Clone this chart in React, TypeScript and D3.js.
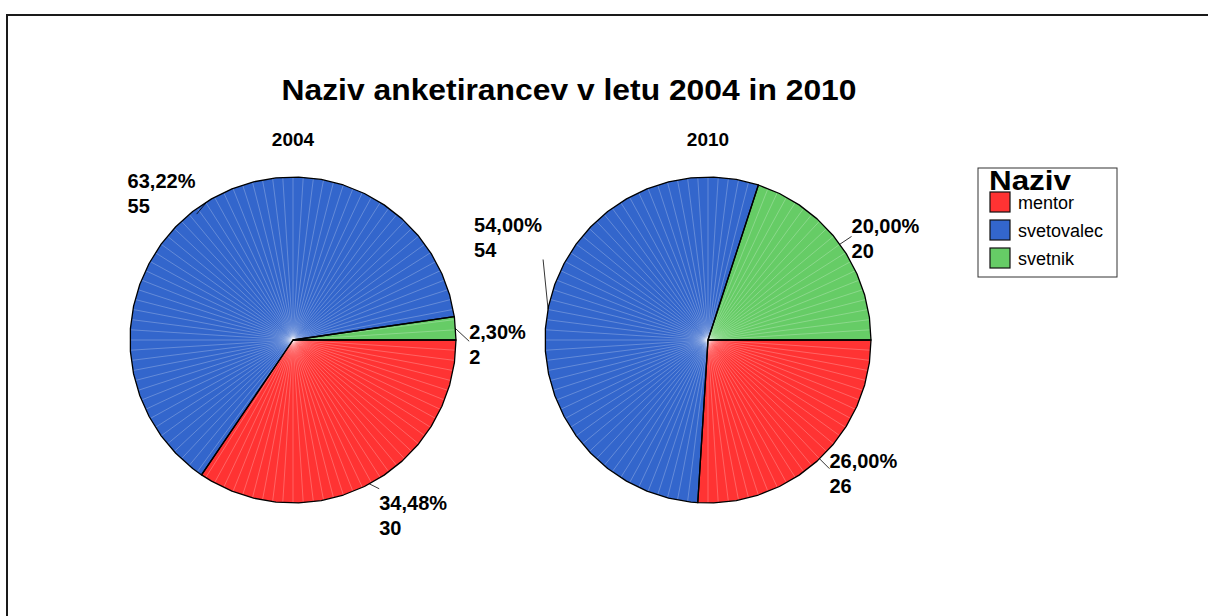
import React from "react";
import * as d3 from "d3";

const categories = ["mentor", "svetovalec", "svetnik"];
const years = ["2004", "2010"];
const values2004 = [30, 55, 2];
const values2010 = [26, 54, 20];
const colors = ["#FF3333", "#3366CC", "#66CC66"];
const title = "Naziv anketirancev v letu 2004 in 2010";
const legendTitle = "Naziv";

const W = 1208;
const H = 616;
const R = 163;
const FONT = "'Liberation Sans', Arial, sans-serif";

// leader end offsets (from slice edge point) and text block offsets (from leader end)
type LabelSpec = { dx: number; dy: number; tdx: number; tdy: number };
const labelSpecs: LabelSpec[][] = [
  [
    { dx: 10, dy: 5, tdx: 0, tdy: 21 },
    { dx: -10, dy: 12, tdx: -69, tdy: -26 },
    { dx: 14, dy: 13, tdx: 0, tdy: -2 },
  ],
  [
    { dx: 10, dy: 10, tdx: 0, tdy: -1 },
    { dx: -5, dy: -50, tdx: -69, tdy: -27 },
    { dx: 12, dy: -8, tdx: 0, tdy: -3 },
  ],
];

const fmtPct = (v: number) => d3.format(".2f")(v).replace(".", ",") + "%";

function pt(cx: number, cy: number, r: number, a: number): [number, number] {
  return [cx + r * Math.sin(a), cy - r * Math.cos(a)];
}

const FACET = (8 * Math.PI) / 180;
const RAY = (3.6 * Math.PI) / 180;

function slicePath(cx: number, cy: number, a0: number, a1: number) {
  const pts: [number, number][] = [[cx, cy], pt(cx, cy, R, a0)];
  const base = Math.PI / 2;
  let k = Math.ceil((a0 - base) / FACET + 1e-9);
  while (base + k * FACET < a1 - 1e-9) {
    pts.push(pt(cx, cy, R, base + k * FACET));
    k++;
  }
  pts.push(pt(cx, cy, R, a1));
  return "M" + pts.map((p) => p.join(",")).join("L") + "Z";
}

function edgePoint(cx: number, cy: number, a: number): [number, number] {
  const base = Math.PI / 2;
  const k = Math.floor((a - base) / FACET);
  const p0 = pt(cx, cy, R, base + k * FACET);
  const p1 = pt(cx, cy, R, base + (k + 1) * FACET);
  const t = (a - (base + k * FACET)) / FACET;
  return [p0[0] + (p1[0] - p0[0]) * t, p0[1] + (p1[1] - p0[1]) * t];
}

function Pie({ values, cx, cy, idx }: { values: number[]; cx: number; cy: number; idx: number }) {
  const total = d3.sum(values);
  const arcs = d3
    .pie<number>()
    .sort(null)
    .startAngle(Math.PI / 2)
    .endAngle(Math.PI / 2 + 2 * Math.PI)(values);
  return (
    <g>
      {arcs.map((a, i) => {
        const rays: number[] = [];
        for (let t = Math.ceil(a.startAngle / RAY) * RAY; t < a.endAngle; t += RAY) rays.push(t);
        const clipId = `clip-${idx}-${i}`;
        return (
          <g key={i}>
            <clipPath id={clipId}>
              <path d={slicePath(cx, cy, a.startAngle, a.endAngle)} />
            </clipPath>
            <path d={slicePath(cx, cy, a.startAngle, a.endAngle)} fill={colors[i]} />
            <g clipPath={`url(#${clipId})`}>
              {rays.map((t, j) => {
                const [x, y] = pt(cx, cy, R + 5, t);
                return (
                  <line key={j} x1={cx} y1={cy} x2={x} y2={y} stroke="#ffffff" strokeOpacity={0.35} strokeWidth={0.7} />
                );
              })}
            </g>
          </g>
        );
      })}
      {arcs.map((a, i) => (
        <path
          key={"o" + i}
          d={slicePath(cx, cy, a.startAngle, a.endAngle)}
          fill="none"
          stroke="#000"
          strokeWidth={1.3}
          strokeLinejoin="round"
        />
      ))}
      {arcs.map((a, i) => {
        const mid = (a.startAngle + a.endAngle) / 2;
        const [ex, ey] = edgePoint(cx, cy, mid);
        const s = labelSpecs[idx][i];
        const lx = ex + s.dx;
        const ly = ey + s.dy;
        const tx = lx + s.tdx;
        const ty = ly + s.tdy;
        return (
          <g key={"l" + i}>
            <line x1={ex} y1={ey} x2={lx} y2={ly} stroke="#000" strokeWidth={0.8} />
            <text x={tx} y={ty} fontFamily={FONT} fontWeight="bold" fontSize={20} fill="#000">
              <tspan x={tx}>{fmtPct((a.data / total) * 100)}</tspan>
              <tspan x={tx} dy={25}>{String(a.data)}</tspan>
            </text>
          </g>
        );
      })}
      <text x={cx} y={146} textAnchor="middle" fontFamily={FONT} fontWeight="bold" fontSize={19} fill="#000">
        {years[idx]}
      </text>
    </g>
  );
}

export default function App() {
  return (
    <svg width={W} height={H} style={{ position: "absolute", left: 0, top: 0, background: "#fff" }}>
      <rect x={0} y={0} width={W} height={H} fill="#fff" />
      <rect x={7} y={15} width={1400} height={800} fill="none" stroke="#1a1a1a" strokeWidth={2} />
      <text
        x={569}
        y={100}
        textAnchor="middle"
        fontFamily={FONT}
        fontWeight="bold"
        fontSize={30}
        textLength={575}
        lengthAdjust="spacingAndGlyphs"
        fill="#000"
      >
        {title}
      </text>
      <Pie values={values2004} cx={293} cy={340} idx={0} />
      <Pie values={values2010} cx={708} cy={340} idx={1} />
      <g>
        <rect x={978} y={168} width={139} height={109} fill="#fff" stroke="#333" strokeWidth={1} />
        <text
          x={989}
          y={190}
          fontFamily={FONT}
          fontWeight="bold"
          fontSize={27}
          textLength={82}
          lengthAdjust="spacingAndGlyphs"
          fill="#000"
        >
          {legendTitle}
        </text>
        {categories.map((c, i) => (
          <g key={c}>
            <rect x={990} y={192 + i * 28} width={20} height={20} fill={colors[i]} stroke="#111" strokeWidth={1.2} />
            <text x={1018} y={209 + i * 28} fontFamily={FONT} fontSize={18} fill="#000">
              {c}
            </text>
          </g>
        ))}
      </g>
    </svg>
  );
}
